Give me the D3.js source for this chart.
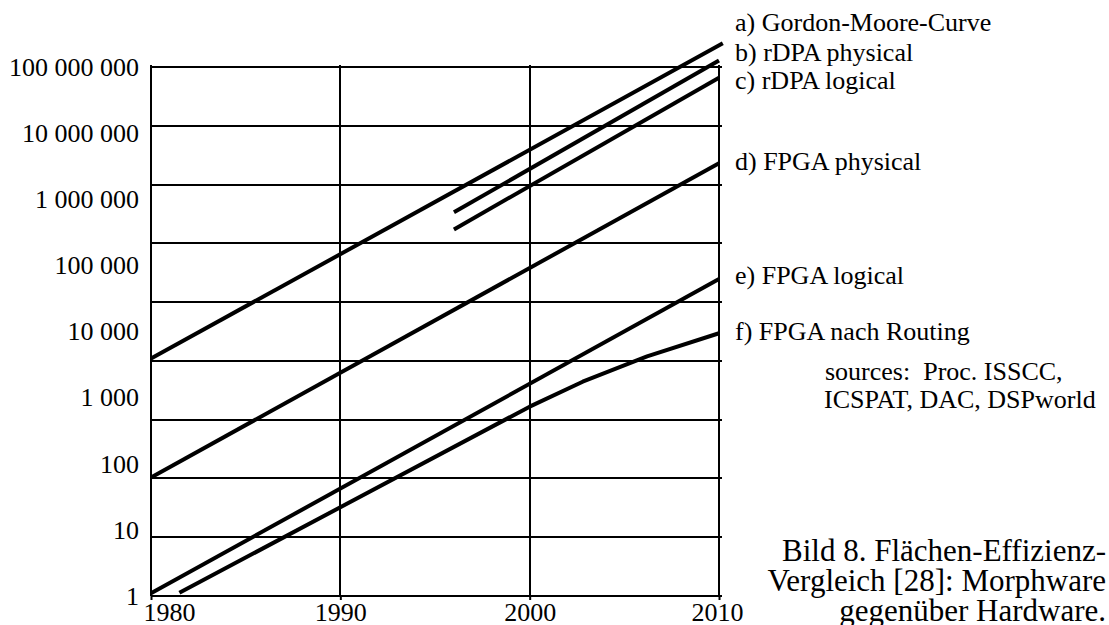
<!DOCTYPE html>
<html>
<head>
<meta charset="utf-8">
<script src="https://cdn.jsdelivr.net/npm/d3@7/dist/d3.min.js"></script>
<style>
    body { margin: 0; background: #fff; }
    svg text { font-family: "Liberation Serif", "Times New Roman", serif; fill: #000; }
</style>
</head>
<body>
<svg id="chart" width="1109" height="625"></svg>
<script>
// values (year, area efficiency)
const gordonMooreYears = [1980, 2010.2],
    gordonMooreValues = [3900, 228000000];
const rdpaPhysicalYears = [1996, 2010],
    rdpaPhysicalValues = [635000, 125000000];
const rdpaLogicalYears = [1996, 2010],
    rdpaLogicalValues = [350000, 69000000];
const fpgaPhysicalYears = [1980, 2010],
    fpgaPhysicalValues = [62, 3500000];
const fpgaLogicalYears = [1980, 2010],
    fpgaLogicalValues = [1.1, 62000];
const fpgaRoutedYears = [1981.5, 2000, 2002.8, 2006.2, 2010],
    fpgaRoutedValues = [1.12, 730, 1740, 4200, 9400];

const seriesLabels = ["a) Gordon-Moore-Curve", "b) rDPA physical", "c) rDPA logical",
    "d) FPGA physical", "e) FPGA logical", "f) FPGA nach Routing"];

const xTickValues = [1980, 1990, 2000, 2010];
const yTickValues = [1, 10, 100, 1000, 10000, 100000, 1000000, 10000000, 100000000];
const yTickLabels = ["1", "10", "100", "1 000", "10 000", "100 000", "1 000 000", "10 000 000", "100 000 000"];

const sourcesLines = ["sources:\u00a0 Proc. ISSCC,", "ICSPAT, DAC, DSPworld"];
const captionLines = ["Bild 8. Flächen-Effizienz-", "Vergleich [28]: Morphware", "gegenüber Hardware."];

let createChart = function() {
    var svg = d3.select("#chart"),
        margin = { top: 67, right: 390, bottom: 29, left: 151 },
        width = +svg.attr("width") - margin.left - margin.right,
        height = +svg.attr("height") - margin.top - margin.bottom;

    var g = svg.append("g")
        .attr("transform", "translate(" + margin.left + "," + margin.top + ")");

    var x = d3.scaleLinear().domain([1980, 2010]).range([0, width]);
    var y = d3.scaleLog().domain([1, 100000000]).range([height, 0]);

    // the original grid has 9 equal rows, not one per decade
    var gridRow = d3.scaleLinear().domain([0, 9]).range([height, 0]);

    g.append("g")
        .selectAll("line")
        .data(d3.range(10))
        .enter()
        .append("line")
        .attr("x1", 0)
        .attr("x2", width + 3)
        .attr("y1", d => Math.round(gridRow(d)))
        .attr("y2", d => Math.round(gridRow(d)))
        .attr("stroke", "#000")
        .attr("stroke-width", 2);

    g.append("g")
        .selectAll("line")
        .data(xTickValues)
        .enter()
        .append("line")
        .attr("x1", d => Math.round(x(d)))
        .attr("x2", d => Math.round(x(d)))
        .attr("y1", -2)
        .attr("y2", height)
        .attr("stroke", "#000")
        .attr("stroke-width", 2);

    // axes (labels + the little ticks under the frame)
    var xAxis = g.append("g")
        .attr("transform", "translate(0," + height + ")")
        .call(d3.axisBottom(x)
            .tickValues(xTickValues)
            .tickFormat(d3.format("d"))
            .tickSize(4)
            .tickPadding(3));
    xAxis.select(".domain").remove();
    xAxis.selectAll("line").attr("stroke-width", 2);
    xAxis.selectAll("text").attr("font-size", 26);
    xAxis.selectAll(".tick").filter(d => d == 1980)
        .select("text").attr("text-anchor", "start").attr("x", -8);
    xAxis.selectAll(".tick").filter(d => d == 2010)
        .select("text").attr("text-anchor", "end").attr("x", 24);

    var yAxis = g.append("g")
        .call(d3.axisLeft(y)
            .tickValues(yTickValues)
            .tickFormat((d, i) => yTickLabels[i])
            .tickSize(0)
            .tickPadding(12));
    yAxis.select(".domain").remove();
    yAxis.selectAll("text").attr("font-size", 26);

    // curves
    var series = [
        { years: gordonMooreYears, values: gordonMooreValues },
        { years: rdpaPhysicalYears, values: rdpaPhysicalValues },
        { years: rdpaLogicalYears, values: rdpaLogicalValues },
        { years: fpgaPhysicalYears, values: fpgaPhysicalValues },
        { years: fpgaLogicalYears, values: fpgaLogicalValues },
        { years: fpgaRoutedYears, values: fpgaRoutedValues }
    ].map((s, i) => ({ label: seriesLabels[i], points: s.years.map((yr, j) => [yr, s.values[j]]) }));

    var line = d3.line()
        .x(d => x(d[0]))
        .y(d => y(d[1]));

    g.append("g")
        .selectAll("path")
        .data(series)
        .enter()
        .append("path")
        .attr("d", d => line(d.points))
        .attr("fill", "none")
        .attr("stroke", "#000")
        .attr("stroke-width", 4)
        .attr("stroke-linejoin", "round");

    // labels sit next to the line ends, a-c spread apart a bit
    var labelDy = [-12, 0, 11, 7, 5, 7];
    g.append("g")
        .selectAll("text")
        .data(series)
        .enter()
        .append("text")
        .attr("x", 735 - margin.left)
        .attr("y", (d, i) => y(d.points[d.points.length - 1][1]) + labelDy[i])
        .attr("font-size", 26)
        .text(d => d.label);

    svg.append("g")
        .selectAll("text")
        .data(sourcesLines)
        .enter()
        .append("text")
        .attr("x", (d, i) => i == 0 ? 825 : 824)
        .attr("y", (d, i) => 380 + i * 28)
        .attr("font-size", 26)
        .style("white-space", "pre")
        .text(d => d);

    svg.append("g")
        .selectAll("text")
        .data(captionLines)
        .enter()
        .append("text")
        .attr("x", 1106)
        .attr("y", (d, i) => 561 + i * 30)
        .attr("text-anchor", "end")
        .attr("font-size", 31)
        .text(d => d);
}

createChart();
</script>
</body>
</html>
